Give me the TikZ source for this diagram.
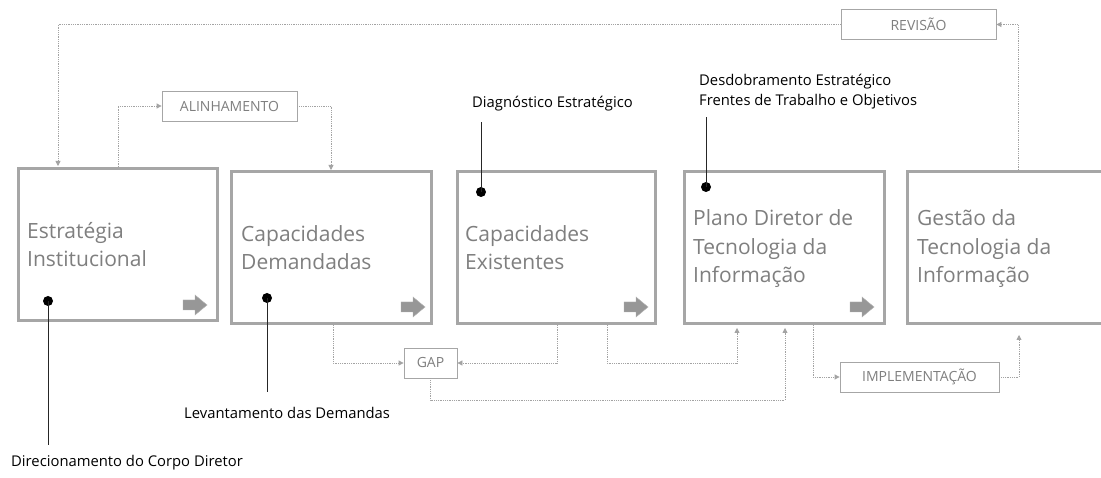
\documentclass[tikz,border=0pt]{standalone}
\usepackage{fontspec}
\setmainfont{Open Sans}
\usetikzlibrary{arrows.meta}
\definecolor{boxgray}{HTML}{A6A6A6}
\definecolor{txtgray}{HTML}{7F7F7F}
\definecolor{arrgray}{HTML}{979797}
\definecolor{linegray}{HTML}{A3A3A3}
\newcommand{\blockarr}[2]{%
  \fill[fill=arrgray,draw=arrgray!75] (#1-24,#2-5) -- (#1-12,#2-5) -- (#1-12,#2-10) -- (#1,#2) -- (#1-12,#2+10) -- (#1-12,#2+5) -- (#1-24,#2+5) -- cycle;}
\begin{document}
\begin{tikzpicture}[x=1pt,y=-1pt,
 bigbox/.style={draw=boxgray, line width=3pt, minimum width=200pt, minimum height=152pt, inner sep=0pt, rectangle},
 bigtext/.style={text=txtgray, font=\fontsize{21}{28}\selectfont, anchor=base west, inner sep=0pt},
 tagbox/.style={draw=boxgray, line width=0.8pt, text=txtgray, font=\fontsize{14}{16}\selectfont, inner sep=0pt, minimum height=30pt},
 note/.style={text=black, font=\fontsize{14.8}{20}\selectfont, align=left, anchor=west, inner sep=0pt},
 flow/.style={draw=linegray, line width=0.8pt, densely dotted, -{Triangle[length=5pt,width=5pt]}},
 dotm/.style={circle, fill=black, minimum size=10pt, inner sep=0pt},
 lead/.style={draw=black!85, line width=0.9pt}
]
\useasboundingbox (0,0) rectangle (1101,478);
\fill[white] (0,0) rectangle (1101,478);

% main boxes
\node[bigbox, minimum width=199pt] (b1) at (118,244.5) {};
\node[bigbox] (b2) at (331.5,247.5) {};
\node[bigbox, minimum width=198pt] (b3) at (556.5,247.5) {};
\node[bigbox] (b4) at (784.5,247.5) {};
\node[bigbox] (b5) at (1007.5,247.5) {};

% box texts
\node[bigtext] (t1a) at (27,239) {Estratégia};
\node[bigtext] (t1b) at (27,267) {Institucional};
\node[bigtext] (t2a) at (241,242) {Capacidades};
\node[bigtext] (t2b) at (241,270) {Demandadas};
\node[bigtext] (t3a) at (465,242) {Capacidades};
\node[bigtext] (t3b) at (465,270) {Existentes};
\node[bigtext] (t4a) at (693,226) {Plano Diretor de};
\node[bigtext] (t4b) at (693,254.5) {Tecnologia da};
\node[bigtext] (t4c) at (693,283) {Informação};
\node[bigtext] (t5a) at (917,226) {Gestão da};
\node[bigtext] (t5b) at (917,254.5) {Tecnologia da};
\node[bigtext] (t5c) at (917,283) {Informação};

% block arrows
\blockarr{207}{305}
\blockarr{425}{307}
\blockarr{648}{307}
\blockarr{874}{307}

% tag boxes
\node[tagbox, minimum width=135pt] (alin) at (229.5,106) {ALINHAMENTO};
\node[tagbox, minimum width=155pt] (rev) at (918.5,24.5) {REVISÃO};
\node[tagbox, minimum width=53pt] (gap) at (430.5,363) {GAP};
\node[tagbox, minimum width=159pt] (impl) at (919.5,377) {IMPLEMENTAÇÃO};

% flows
\draw[flow] (1018,170) |- (rev.east);
\draw[flow] (rev.west) -| (58,166);
\draw[flow] (b1.north) |- (alin.west);
\draw[flow] (alin.east) -| (331,170);
\draw[flow] (333,325) |- (gap.west);
\draw[flow] (557,325) |- (gap.east);
\draw[flow] (gap.south) |- (785,400) -- (785,328);
\draw[flow] (607,325) |- (737,363) -- (737,328);
\draw[flow] (813,325) |- (impl.west);
\draw[flow] (impl.east) -| (1019,335);

% notes and dots
\node[dotm] (d1) at (48,301) {};
\node[dotm] (d2) at (267,298) {};
\node[dotm] (d3) at (481,192) {};
\node[dotm] (d4) at (706,187) {};
\node[note] (n1) at (11,463) {Direcionamento do Corpo Diretor};
\node[note] (n2) at (184,413) {Levantamento das Demandas};
\node[note] (n3) at (472,104) {Diagnóstico Estratégico};
\node[note, anchor=north west] (n4) at (699,74) {Desdobramento Estratégico\\Frentes de Trabalho e Objetivos};
\coordinate (e1) at (48,445);
\coordinate (e2) at (267,392);
\coordinate (e3) at (481,122);
\coordinate (e4) at (706,117);
\draw[lead] (d1.center) -- (e1);
\draw[lead] (d2.center) -- (e2);
\draw[lead] (d3.center) -- (e3);
\draw[lead] (d4.center) -- (e4);
\end{tikzpicture}
\end{document}
